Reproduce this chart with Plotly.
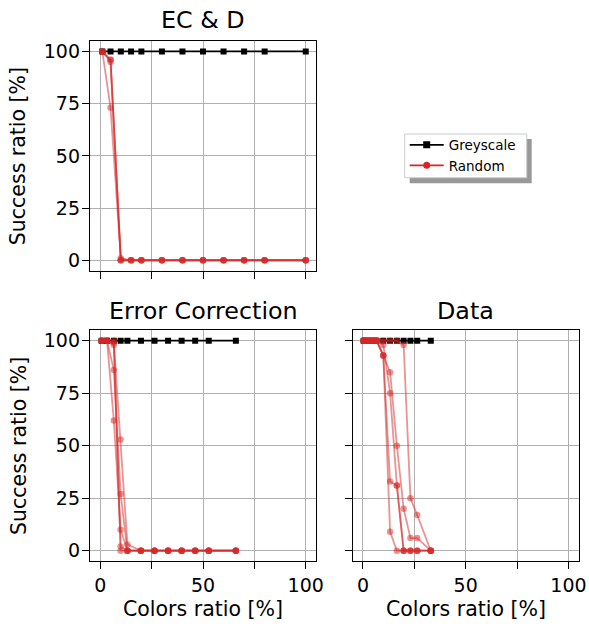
import plotly.graph_objects as go

# ---------------- data ----------------
colors_ecd = [1, 5, 10, 15, 20, 30, 40, 50, 60, 70, 80, 100]
colors_ec = [0.66, 3.3, 6.6, 9.9, 13.2, 19.8, 26.4, 33, 39.6, 46.2, 52.8, 66]
colors_data = [0.33, 1.65, 3.3, 4.95, 6.6, 9.9, 13.2, 16.5, 19.8, 23.1, 26.4, 33]

greyscale_ecd = [100, 100, 100, 100, 100, 100, 100, 100, 100, 100, 100, 100]
greyscale_ec = [100, 100, 100, 100, 100, 100, 100, 100, 100, 100, 100, 100]
greyscale_data = [100, 100, 100, 100, 100, 100, 100, 100, 100, 100, 100, 100]

random_ecd_1 = [100, 96, 0, 0, 0, 0, 0, 0, 0, 0, 0, 0]
random_ecd_2 = [100, 96, 0, 0, 0, 0, 0, 0, 0, 0, 0, 0]
random_ecd_3 = [100, 95, 0, 0, 0, 0, 0, 0, 0, 0, 0, 0]
random_ecd_4 = [100, 73, 1, 0, 0, 0, 0, 0, 0, 0, 0, 0]

random_ec_1 = [100, 100, 99, 53, 3, 0, 0, 0, 0, 0, 0, 0]
random_ec_2 = [100, 100, 86, 27, 0, 0, 0, 0, 0, 0, 0, 0]
random_ec_3 = [100, 100, 62, 10, 0, 0, 0, 0, 0, 0, 0, 0]
random_ec_4 = [100, 100, 100, 2, 0, 0, 0, 0, 0, 0, 0, 0]
random_ec_5 = [100, 100, 98, 0, 0, 0, 0, 0, 0, 0, 0, 0]

random_data_1 = [100, 100, 100, 100, 100, 93, 85, 50, 20, 6, 6, 0]
random_data_2 = [100, 100, 100, 100, 100, 98, 75, 31, 0, 0, 0, 0]
random_data_3 = [100, 100, 100, 100, 100, 93, 33, 31, 0, 0, 0, 0]
random_data_4 = [100, 100, 100, 100, 100, 93, 9, 0, 0, 0, 0, 0]
random_data_5 = [100, 100, 100, 100, 100, 100, 100, 100, 98, 25, 17, 0]

y_ticks = [0, 25, 50, 75, 100]
y_ticklabels = ["0", "25", "50", "75", "100"]
x_ticks = [0, 25, 50, 75, 100]
x_ticklabels = ["0", "", "50", "", "100"]
blank_labels = ["", "", "", "", ""]

titles = ["EC & D", "Error Correction", "Data"]
ylabel = "Success ratio [%]"
xlabel = "Colors ratio [%]"

# ---------------- figure ----------------
W, H = 589, 624
RED = "#d62728"
RED_A = "rgba(214,39,40,0.5)"
FONT = "DejaVu Sans"

fig = go.Figure()

panels = [
    (colors_ecd, greyscale_ecd, [random_ecd_1, random_ecd_2, random_ecd_3, random_ecd_4], "x", "y"),
    (colors_ec, greyscale_ec, [random_ec_1, random_ec_2, random_ec_3, random_ec_4, random_ec_5], "x2", "y2"),
    (colors_data, greyscale_data, [random_data_1, random_data_2, random_data_3, random_data_4, random_data_5], "x3", "y3"),
]

for xs, g, runs, xa, ya in panels:
    fig.add_trace(go.Scatter(
        x=xs, y=g, mode="lines+markers", xaxis=xa, yaxis=ya, showlegend=False,
        line=dict(color="black", width=1.8),
        marker=dict(symbol="square", size=6, color="black", line=dict(width=0)),
        hoverinfo="skip"))
    for r in runs:
        fig.add_trace(go.Scatter(
            x=xs, y=r, mode="lines+markers", xaxis=xa, yaxis=ya, showlegend=False,
            line=dict(color=RED_A, width=1.8),
            marker=dict(symbol="circle", size=6.5, color=RED_A, line=dict(width=0)),
            hoverinfo="skip"))

# legend entries
fig.add_trace(go.Scatter(x=[None], y=[None], mode="lines+markers", name="Greyscale",
                         line=dict(color="black", width=1.8),
                         marker=dict(symbol="square", size=7, color="black"),
                         xaxis="x", yaxis="y"))
fig.add_trace(go.Scatter(x=[None], y=[None], mode="lines+markers", name="Random",
                         line=dict(color=RED, width=1.8),
                         marker=dict(symbol="circle", size=7, color=RED),
                         xaxis="x", yaxis="y"))


def axis(domain, anchor, tickvals, ticktext, standoff=None):
    d = dict(
        domain=domain, anchor=anchor, range=[-5, 105],
        tickmode="array", tickvals=tickvals, ticktext=ticktext,
        showline=True, mirror=True, linecolor="black", linewidth=1.3,
        ticks="outside", ticklen=7, tickwidth=1.3, tickcolor="black",
        showgrid=True, gridcolor="#b0b0b0", gridwidth=1.1, zeroline=False,
        tickfont=dict(family=FONT, size=19, color="black"),
        automargin=False, fixedrange=True,
    )
    if standoff is not None:
        d["ticklabelstandoff"] = standoff
    return d


xl = [90 / W, 316 / W]
xr = [352.7 / W, 578.7 / W]
yt = [1 - 270.7 / H, 1 - 41 / H]
yb = [1 - 561.2 / H, 1 - 330.2 / H]

fig.update_layout(
    width=W, height=H,
    margin=dict(l=0, r=0, t=0, b=0),
    paper_bgcolor="white", plot_bgcolor="white",
    font=dict(family=FONT, color="black"),
    xaxis=axis(xl, "y", x_ticks, blank_labels),
    yaxis=axis(yt, "x", y_ticks, y_ticklabels, -2),
    xaxis2=axis(xl, "y2", x_ticks, x_ticklabels),
    yaxis2=axis(yb, "x2", y_ticks, y_ticklabels, -2),
    xaxis3=axis(xr, "y3", x_ticks, x_ticklabels),
    yaxis3=axis(yb, "x3", y_ticks, blank_labels),
    showlegend=True,
    legend=dict(x=404.7 / W, y=1 - 129.5 / H, xanchor="left", yanchor="top",
                bgcolor="rgba(0,0,0,0)", borderwidth=0, itemwidth=34,
                font=dict(family=FONT, size=13.5, color="black")),
)

ann = []
ann.append(dict(text=titles[0], x=203 / W, y=1 - 20 / H))
ann.append(dict(text=titles[1], x=203 / W, y=1 - 311 / H))
ann.append(dict(text=titles[2], x=465.7 / W, y=1 - 311 / H))
for a in ann:
    a.update(xref="paper", yref="paper", xanchor="center", yanchor="middle",
             showarrow=False, font=dict(family=FONT, size=23.8, color="black"))
for yc in [155.9, 445.7]:
    ann.append(dict(text=ylabel, x=18.3 / W, y=1 - yc / H, xref="paper", yref="paper",
                    xanchor="center", yanchor="middle", textangle=-90, showarrow=False,
                    font=dict(family=FONT, size=20.5, color="black")))
for xc in [203, 465.7]:
    ann.append(dict(text=xlabel, x=xc / W, y=1 - 609 / H, xref="paper", yref="paper",
                    xanchor="center", yanchor="middle", showarrow=False,
                    font=dict(family=FONT, size=20.5, color="black")))
fig.update_layout(annotations=ann)

# legend frame with shadow
fig.add_shape(type="rect", xref="paper", yref="paper",
              x0=409.7 / W, x1=531.7 / W, y0=1 - 183.3 / H, y1=1 - 139 / H,
              fillcolor="rgba(0,0,0,0.4)", line=dict(width=0), layer="above")
fig.add_shape(type="rect", xref="paper", yref="paper",
              x0=404.7 / W, x1=526.7 / W, y0=1 - 177.7 / H, y1=1 - 134 / H,
              fillcolor="white", line=dict(color="#cccccc", width=1), layer="above")

fig.write_html("out.html")
